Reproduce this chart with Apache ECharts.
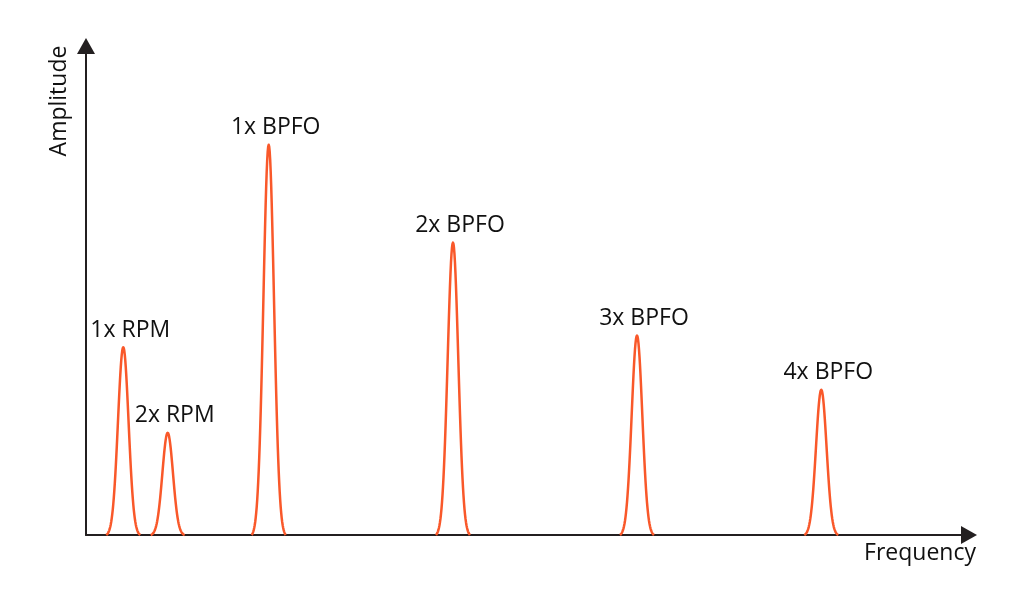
<!DOCTYPE html>
<html>
<head>
<meta charset="utf-8">
<script src="https://cdn.jsdelivr.net/npm/echarts@6/dist/echarts.min.js"></script>
<style>
  html, body { margin: 0; padding: 0; background: #ffffff; }
  #chart { width: 1024px; height: 605px; }
</style>
</head>
<body>
<div id="chart"></div>
<script>
// Peak data (frequency in axis units 0-100, amplitude 0-100)
const peakLabels = ['1x RPM', '2x RPM', '1x BPFO', '2x BPFO', '3x BPFO', '4x BPFO'];
const peakFrequency = [4.22, 9.25, 20.69, 41.56, 62.40, 83.27];
const peakAmplitude = [38.4, 20.9, 79.8, 59.8, 40.8, 29.7];
const axisNames = { x: 'Frequency', y: 'Amplitude' };

const LINE_COLOR = '#F9582A';
const AXIS_COLOR = '#231F20';
const TEXT_COLOR = '#111111';
const FONT = '"Open Sans", sans-serif';

const peakData = peakFrequency.map((f, i) => [f, peakAmplitude[i], peakLabels[i]]);

const chart = echarts.init(document.getElementById('chart'), null, { renderer: 'canvas' });

function renderPeak(params, api) {
  const f = api.value(0);
  const a = api.value(1);
  const top = api.coord([f, a]);
  const base = api.coord([f, 0]);
  const hPx = base[1] - top[1];
  const halfBase = 17;   // px, visual half-width of the peak foot
  const sigma = 5.3;     // px, peak shape
  const gEnd = Math.exp(-(halfBase * halfBase) / (2 * sigma * sigma));
  const pts = [];
  for (let dx = -halfBase; dx <= halfBase + 1e-9; dx += 0.5) {
    const g = (Math.exp(-(dx * dx) / (2 * sigma * sigma)) - gEnd) / (1 - gEnd);
    pts.push([top[0] + dx, base[1] - hPx * g]);
  }
  return {
    type: 'group',
    children: [
      {
        type: 'polyline',
        shape: { points: pts },
        style: { stroke: LINE_COLOR, lineWidth: 2.5, fill: null, lineJoin: 'round' }
      },
      {
        type: 'text',
        x: top[0] + 7,
        y: top[1] - 17,
        style: {
          text: api.value(2),
          font: '23px ' + FONT,
          fill: TEXT_COLOR,
          align: 'center',
          verticalAlign: 'middle'
        }
      }
    ]
  };
}

const axisCommon = {
  type: 'value', min: 0, max: 100,
  axisLine: { show: true, symbol: ['none', 'triangle'], symbolSize: [18, 16],
    lineStyle: { color: AXIS_COLOR, width: 2 } },
  axisTick: { show: false }, axisLabel: { show: false }, splitLine: { show: false }
};

chart.setOption({
  backgroundColor: '#ffffff',
  animation: false,
  grid: { left: 86, right: 55, top: 46, bottom: 70 },
  xAxis: Object.assign({}, axisCommon),
  yAxis: Object.assign({}, axisCommon),
  graphic: [
    {
      type: 'text', x: 59, y: 101, rotation: Math.PI / 2,
      style: { text: axisNames.y, font: '23px ' + FONT, fill: TEXT_COLOR, align: 'center', verticalAlign: 'middle' }
    },
    {
      type: 'text', x: 920, y: 553,
      style: { text: axisNames.x, font: '23px ' + FONT, fill: TEXT_COLOR, align: 'center', verticalAlign: 'middle' }
    }
  ],
  series: [{
    type: 'custom',
    coordinateSystem: 'cartesian2d',
    clip: false,
    renderItem: renderPeak,
    encode: { x: 0, y: 1 },
    data: peakData
  }]
});
</script>
</body>
</html>
